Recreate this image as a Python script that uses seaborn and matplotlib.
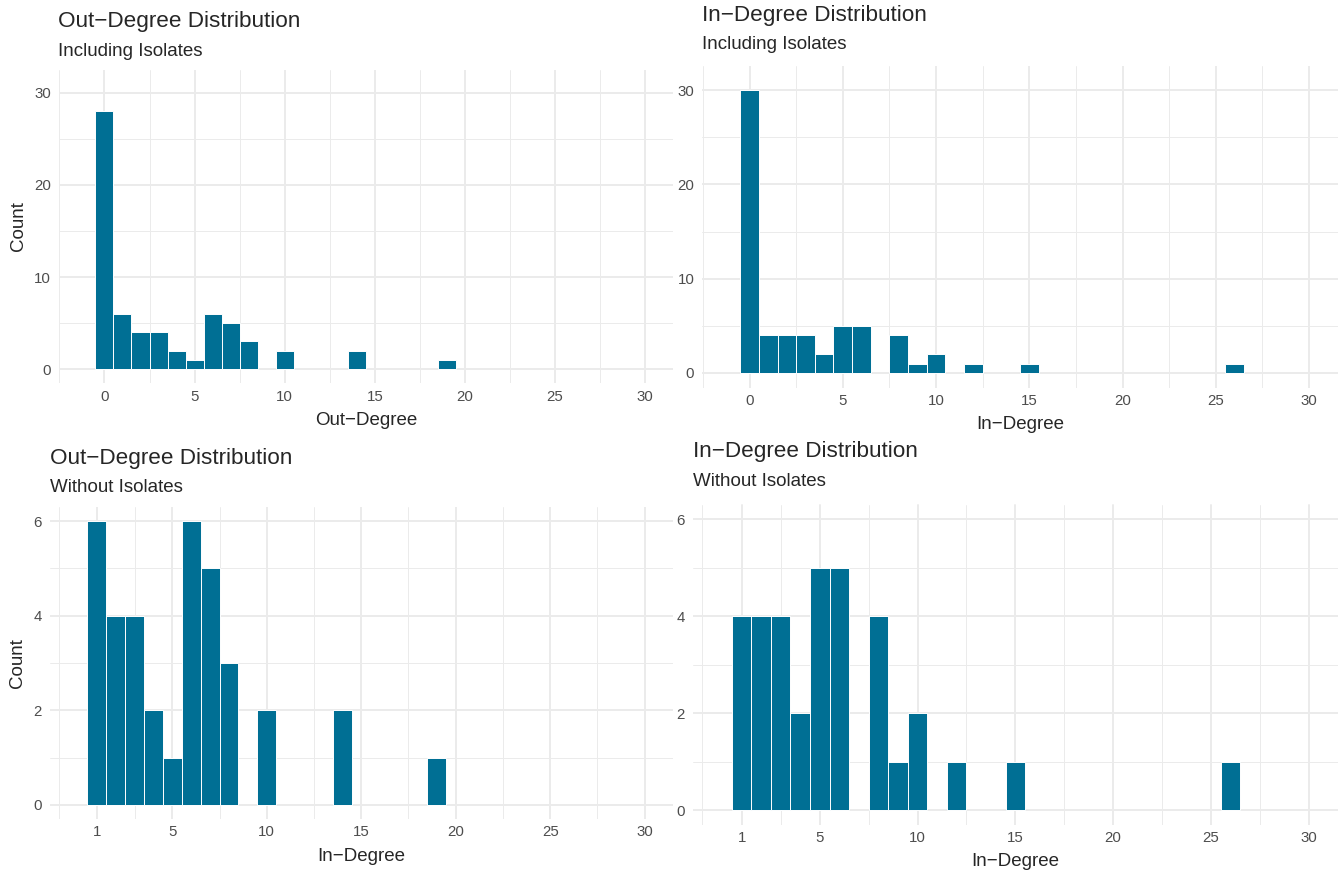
import numpy as np
import pandas as pd
import matplotlib
matplotlib.use("Agg")
import matplotlib.pyplot as plt
import seaborn as sns
from matplotlib.ticker import FixedLocator

# ------------------------------------------------------------
# data (degree -> number of nodes)
# ------------------------------------------------------------
out_degree = [0, 1, 2, 3, 4, 5, 6, 7, 8, 10, 14, 19]
out_count = [28, 6, 4, 4, 2, 1, 6, 5, 3, 2, 2, 1]

in_degree = [0, 1, 2, 3, 4, 5, 6, 8, 9, 10, 12, 15, 26]
in_count = [30, 4, 4, 4, 2, 5, 5, 4, 1, 2, 1, 1, 1]

titles = ["Out\u2212Degree Distribution", "In\u2212Degree Distribution",
          "Out\u2212Degree Distribution", "In\u2212Degree Distribution"]
subtitles = ["Including Isolates", "Including Isolates",
             "Without Isolates", "Without Isolates"]
xlabels = ["Out\u2212Degree", "In\u2212Degree", "In\u2212Degree", "In\u2212Degree"]
ylabels = ["Count", "", "Count", ""]

out_df = pd.DataFrame({"degree": out_degree, "n": out_count})
in_df = pd.DataFrame({"degree": in_degree, "n": in_count})
frames = [out_df, in_df, out_df[out_df.degree > 0], in_df[in_df.degree > 0]]

# ------------------------------------------------------------
# style
# ------------------------------------------------------------
sns.set_style("white")
plt.rcParams["font.family"] = ["Liberation Sans", "DejaVu Sans"]
bar_color = "#006F94"
grid_color = "#EBEBEB"

W, H = 1342, 873
fig = plt.figure(figsize=(W / 100, H / 100), dpi=100)

# panel boxes in pixels: left, top, right, bottom
boxes = [(58.5, 69.5, 673, 383.3),
         (702, 66, 1338, 387.6),
         (49.5, 507, 673, 819),
         (692.7, 504.5, 1338, 824.6)]
title_y = [(21.5, 51), (16, 44.5), (458.7, 487.7), (451.7, 481)]

for i in range(4):
    l, t, r, b = boxes[i]
    ax = fig.add_axes([l / W, 1 - b / H, (r - l) / W, (b - t) / H])
    d = frames[i]
    sns.histplot(x=d["degree"], weights=d["n"], discrete=True, ax=ax,
                 color=bar_color, edgecolor="white", linewidth=0.7, alpha=1)
    # empty bins would paint white edges over the zero grid line
    for p in list(ax.patches):
        if p.get_height() == 0:
            p.remove()
    if i < 2:
        ax.set_xlim(-2.55, 31.55)
        ax.set_ylim(-1.55, 32.55)
        ax.xaxis.set_major_locator(FixedLocator([0, 5, 10, 15, 20, 25, 30]))
        ax.xaxis.set_minor_locator(FixedLocator([-2.5, 2.5, 7.5, 12.5, 17.5, 22.5, 27.5]))
        ax.yaxis.set_major_locator(FixedLocator([0, 10, 20, 30]))
        ax.yaxis.set_minor_locator(FixedLocator([5, 15, 25]))
    else:
        ax.set_xlim(-1.5, 31.5)
        ax.set_ylim(-0.3, 6.3)
        ax.xaxis.set_major_locator(FixedLocator([1, 5, 10, 15, 20, 25, 30]))
        ax.xaxis.set_minor_locator(FixedLocator([-1, 3, 7.5, 12.5, 17.5, 22.5, 27.5]))
        ax.yaxis.set_major_locator(FixedLocator([0, 2, 4, 6]))
        ax.yaxis.set_minor_locator(FixedLocator([1, 3, 5]))
    ax.set_axisbelow(True)
    ax.grid(which="major", color=grid_color, linewidth=1.4)
    ax.grid(which="minor", color=grid_color, linewidth=0.7)
    for s in ax.spines.values():
        s.set_visible(False)
    ax.tick_params(which="both", length=0, labelsize=10.8, labelcolor="#4D4D4D")
    ax.tick_params(axis="x", pad=4.5)
    ax.tick_params(axis="y", pad=5.5)
    ax.set_xlabel(xlabels[i], fontsize=13.5, labelpad=6)
    ax.set_ylabel(ylabels[i], fontsize=13.5, labelpad=5)

    fig.text(l / W, 1 - title_y[i][0] / H, titles[i], fontsize=16.2, va="center", ha="left")
    fig.text(l / W, 1 - title_y[i][1] / H, subtitles[i], fontsize=13.5, va="center", ha="left")

fig.savefig("out.png", dpi=100, facecolor="white")
